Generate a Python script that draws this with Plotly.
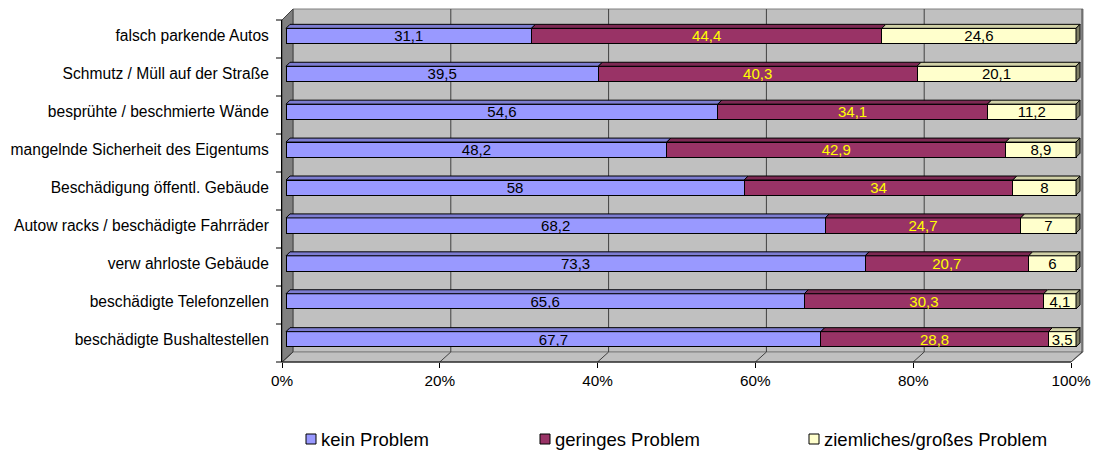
import plotly.graph_objects as go

# Survey: how big is each problem in the neighbourhood (row shares in %)
categories = [
    "beschädigte Bushaltestellen",
    "beschädigte Telefonzellen",
    "verw ahrloste Gebäude",
    "Autow racks / beschädigte Fahrräder",
    "Beschädigung öffentl. Gebäude",
    "mangelnde Sicherheit des Eigentums",
    "besprühte / beschmierte Wände",
    "Schmutz / Müll auf der Straße",
    "falsch parkende Autos",
]
kein_problem = [67.7, 65.6, 73.3, 68.2, 58, 48.2, 54.6, 39.5, 31.1]
geringes_problem = [28.8, 30.3, 20.7, 24.7, 34, 42.9, 34.1, 40.3, 44.4]
grosses_problem = [3.5, 4.1, 6, 7, 8, 8.9, 11.2, 20.1, 24.6]

series_names = ["kein Problem", "geringes Problem", "ziemliches/großes Problem"]
x_ticks = [0, 20, 40, 60, 80, 100]

FONT = "Liberation Sans, Arial, sans-serif"
W, H = 1093, 450

face_colors = ["#9999FF", "#993366", "#FFFFCC"]
label_colors = ["#000000", "#FFFF00", "#000000"]


def shade(hex_color, f):
    r, g, b = (int(hex_color[i:i + 2], 16) for i in (1, 3, 5))
    return "rgb({},{},{})".format(int(r * f), int(g * f), int(b * f))


def px(x):
    return x / W


def py(y):
    return 1 - y / H


def fmt(v):
    return ("%g" % v).replace(".", ",")


# pixel geometry of the 3-D frame
FRONT_L, FRONT_R, FRONT_B, FRONT_T = 282, 1071, 362, 20
DEPTH_X, DEPTH_Y = 11, 10
BAR_L, BAR_R = 286, 1076
PLOT_R = 1082
Y_MIN, Y_MAX = -0.6, 8.42
BAR_W = 0.4
UNIT = (BAR_R - BAR_L) / 100.0          # pixels per percent
X_MIN = (FRONT_L - BAR_L) / UNIT
X_MAX = (PLOT_R - BAR_L) / UNIT
# depth offset of the bar tops, in axis units
bar_dx = 4 / UNIT
bar_dy = 4 * (Y_MAX - Y_MIN) / (FRONT_B - FRONT_T)

series = [kein_problem, geringes_problem, grosses_problem]
ypos = list(range(len(categories)))

fig = go.Figure()

for name, vals, col, lcol in zip(series_names, series, face_colors, label_colors):
    fig.add_trace(go.Bar(
        y=ypos, x=vals, name=name, orientation="h",
        width=BAR_W, offset=-BAR_W / 2,
        marker=dict(color=col, line=dict(color="#000000", width=1)),
        text=[fmt(v) for v in vals], textposition="inside",
        insidetextanchor="middle", textangle=0, constraintext="none",
        textfont=dict(family=FONT, size=15, color=lcol),
        hoverinfo="skip", showlegend=False,
    ))

# top faces (and end face of the last segment) of the 3-D bars
totals = [sum(s[i] for s in series) for i in ypos]
left = [0.0] * len(ypos)
for k, (vals, col) in enumerate(zip(series, face_colors)):
    for i in ypos:
        x0 = left[i]
        x1 = x0 + vals[i] / totals[i] * 100
        left[i] = x1
        yt = i + BAR_W / 2
        yb = i - BAR_W / 2
        fig.add_trace(go.Scatter(
            x=[x0, x1, x1 + bar_dx, x0 + bar_dx, x0],
            y=[yt, yt, yt + bar_dy, yt + bar_dy, yt],
            mode="lines", fill="toself", fillcolor=shade(col, 0.82),
            line=dict(color="#000000", width=1), showlegend=False,
            hoverinfo="skip"))
        if k == len(series) - 1:
            fig.add_trace(go.Scatter(
                x=[x1, x1 + bar_dx, x1 + bar_dx, x1, x1],
                y=[yb, yb + bar_dy, yt + bar_dy, yt, yb],
                mode="lines", fill="toself", fillcolor=shade(col, 0.5),
                line=dict(color="#000000", width=1), showlegend=False,
                hoverinfo="skip"))

shapes = []
annotations = []
BACK_L, BACK_T = FRONT_L + DEPTH_X, FRONT_T - DEPTH_Y - 1
BACK_R, BACK_B = FRONT_R + DEPTH_X + 1, FRONT_B - DEPTH_Y
# back wall
shapes.append(dict(type="rect", xref="paper", yref="paper", layer="below",
                   x0=px(BACK_L), x1=px(BACK_R), y0=py(BACK_B), y1=py(BACK_T),
                   fillcolor="#C0C0C0", line=dict(color="#808080", width=1)))
# floor
shapes.append(dict(type="path", xref="paper", yref="paper", layer="below",
                   path="M{},{} L{},{} L{},{} L{},{} Z".format(
                       px(FRONT_L), py(FRONT_B), px(BACK_L), py(BACK_B),
                       px(BACK_R), py(BACK_B), px(FRONT_R), py(FRONT_B)),
                   fillcolor="#C0C0C0", line=dict(color="#808080", width=1)))
# side wall
shapes.append(dict(type="path", xref="paper", yref="paper", layer="below",
                   path="M{},{} L{},{} L{},{} L{},{} Z".format(
                       px(FRONT_L), py(FRONT_T), px(BACK_L), py(BACK_T),
                       px(BACK_L), py(BACK_B), px(FRONT_L), py(FRONT_B)),
                   fillcolor="#808080", line=dict(color="#404040", width=1)))
# gridlines on back wall and floor
span = FRONT_R - FRONT_L
for t in x_ticks:
    fx = FRONT_L + span * t / 100
    bx = fx + DEPTH_X
    if t > 0:
        shapes.append(dict(type="line", xref="paper", yref="paper", layer="below",
                           x0=px(bx), x1=px(bx), y0=py(BACK_B), y1=py(BACK_T),
                           line=dict(color="#404040", width=1)))
    shapes.append(dict(type="line", xref="paper", yref="paper", layer="below",
                       x0=px(fx), x1=px(bx), y0=py(FRONT_B), y1=py(BACK_B),
                       line=dict(color="#404040", width=1)))
# front floor edge
shapes.append(dict(type="line", xref="paper", yref="paper",
                   x0=px(FRONT_L), x1=px(FRONT_R), y0=py(FRONT_B), y1=py(FRONT_B),
                   line=dict(color="#000000", width=1)))
# category boundary ticks on the value-axis side
cat_h = (FRONT_B - FRONT_T) / len(categories)
for j in range(len(categories) + 1):
    yy = FRONT_B - j * cat_h
    shapes.append(dict(type="line", xref="paper", yref="paper",
                       x0=px(FRONT_L - 6), x1=px(FRONT_L), y0=py(yy), y1=py(yy),
                       line=dict(color="#000000", width=1)))

# legend row below the chart: colour key + series name
LEG_Y, BOX = 439, 10
legend_x = [306, 540, 809]
for name, col, lx in zip(series_names, face_colors, legend_x):
    shapes.append(dict(type="rect", xref="paper", yref="paper",
                       x0=px(lx), x1=px(lx + BOX),
                       y0=py(LEG_Y + BOX / 2), y1=py(LEG_Y - BOX / 2),
                       fillcolor=col, line=dict(color="#000000", width=1)))
    annotations.append(dict(xref="paper", yref="paper", x=px(lx + BOX + 3),
                            y=py(LEG_Y), xanchor="left", yanchor="middle",
                            text=name, showarrow=False,
                            font=dict(family=FONT, size=18.5, color="#000000")))

# percent tick positions along the front floor edge, in bar units
tick_pos = [(FRONT_L + span * t / 100 - BAR_L) / UNIT for t in x_ticks]

fig.update_layout(
    width=W, height=H,
    margin=dict(l=0, r=0, t=0, b=0, autoexpand=False),
    paper_bgcolor="#FFFFFF", plot_bgcolor="rgba(0,0,0,0)",
    barmode="stack", barnorm="percent",
    font=dict(family=FONT, size=15, color="#000000"),
    showlegend=False,
    shapes=shapes,
    annotations=annotations,
    xaxis=dict(domain=[px(FRONT_L), px(PLOT_R)], range=[X_MIN, X_MAX],
               tickmode="array", tickvals=tick_pos,
               ticktext=["{}%".format(t) for t in x_ticks],
               ticks="outside", ticklen=5, tickcolor="#000000",
               showline=False, showgrid=False, zeroline=False,
               tickfont=dict(family=FONT, size=15.3), fixedrange=True),
    yaxis=dict(domain=[py(FRONT_B), py(FRONT_T)], range=[Y_MIN, Y_MAX],
               tickmode="array", tickvals=ypos, ticktext=categories,
               ticks="outside", ticklen=9, tickcolor="rgba(0,0,0,0)",
               showline=True, linecolor="#000000", showgrid=False,
               zeroline=False, tickfont=dict(family=FONT, size=15.6),
               fixedrange=True),
)

fig.write_html("out.html")
